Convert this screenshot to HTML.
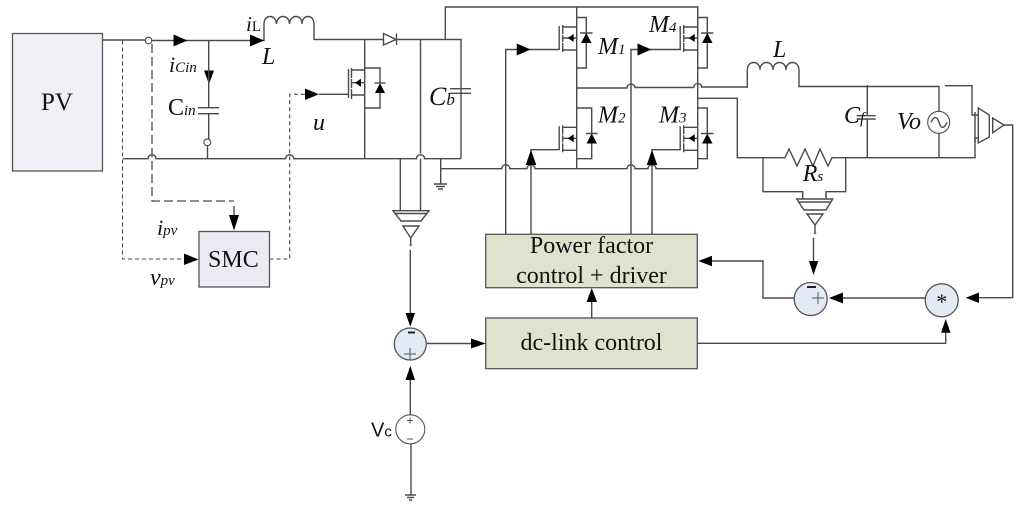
<!DOCTYPE html>
<html><head><meta charset="utf-8"><style>
html,body{margin:0;padding:0;background:#fff;width:1024px;height:515px;overflow:hidden}
svg{display:block;filter:blur(.35px)}
text{font-family:"Liberation Serif",serif;fill:#111}
.i{font-style:italic}
.l{fill:none;stroke:#4a4a4a;stroke-width:1.4}
.d{fill:none;stroke:#4a4a4a;stroke-width:1.1;stroke-dasharray:4 3}
.k{fill:#000;stroke:none}
.s{font-size:15px}
</style></head><body>
<svg width="1024" height="515" viewBox="0 0 1024 515" xmlns="http://www.w3.org/2000/svg">
<defs>
<g id="fet">
<path class="l" d="M-17.5 -12V12M-14 -13V-4M-14 -3V4M-14 5V14M-14 -11H0M-14 12H0M-14 0H0"/>
<path class="k" d="M-9 0L-3 -4V4Z"/>
</g>
</defs>

<!-- Boxes -->
<rect x="12.5" y="33.5" width="90" height="137.5" fill="#f0eff6" stroke="#555" stroke-width="1.3"/>
<rect x="199" y="231.5" width="70.5" height="55.5" fill="#eceaf3" stroke="#555" stroke-width="1.3"/>
<rect x="485.7" y="234.3" width="211.6" height="53.4" fill="#dfe3cd" stroke="#555" stroke-width="1.3"/>
<rect x="485.7" y="318" width="211.6" height="50.7" fill="#dfe3cd" stroke="#555" stroke-width="1.3"/>

<!-- Input -->
<path class="l" d="M103 40H145M152 40.5H264V24C264 14 276 14 276.5 24C277 14 289 14 289.5 24C290 14 302 14 302 24C302 14 314 14 314 24V39.5H383M396 39.5H461V158.7"/>
<circle cx="148.5" cy="40.5" r="3.3" fill="#fff" stroke="#4a4a4a" stroke-width="1.1"/>
<path class="k" d="M173.5 34.5L187.5 40.5L173.5 46.5Z M250 34.5L264 40.5L250 46.5Z M204 70.5H214L209 84Z"/>
<path class="l" d="M208.7 40.5V107.7M208.7 113.7V139M207.5 146V158.7M198 107.7H219M198 113.7H219"/>
<circle cx="207.3" cy="142.3" r="3.4" fill="#fff" stroke="#4a4a4a" stroke-width="1.1"/>
<path class="l" d="M123 158.7H148C148 153.5 156 153.5 156 158.7H285.7C285.7 153.5 293.7 153.5 293.7 158.7H416.5C416.5 153.5 424.5 153.5 424.5 158.7H461"/>

<!-- Dashed -->
<path class="d" d="M122.5 40.5V259H185"/>
<path class="k" d="M184 253.5L198.5 259.5L184 265Z"/>
<path d="M152 44V201H234" fill="none" stroke="#4a4a4a" stroke-width="1.3" stroke-dasharray="9 4"/>
<path class="l" d="M234 206V216"/>
<path class="k" d="M229 215H239L234 230.5Z"/>
<path class="d" d="M269.5 259H289.7V94.3H305"/>
<path class="k" d="M305 88.5L319 94.3L305 100Z"/>

<!-- Boost switch -->
<path class="l" d="M319 94.3H348.5M348.5 69V98M351.5 68V78M351.5 79V88M351.5 89V99M351.5 70H364.7M351.5 95H364.7M351.5 82.7H364.7M364.7 39.5V158.7M364.7 68H380V83M380 93V108H364.7"/>
<path class="k" d="M355 82.7L361 78.7V86.7Z M380 83L385 93H375Z"/>
<path class="l" d="M374.5 83H385.5"/>
<path class="l" d="M383.5 33.5V45L396 39.5ZM396.5 33.5V45"/>

<!-- Dc link verticals -->
<path class="l" d="M420.5 39.5V153.5M420.5 158.7V210M445.3 39.5V7H697.7V38M450 88.7H471M450 93.3H471"/>
<path class="l" d="M400.3 158.7V210.5"/>
<path class="l" d="M440.7 158.7V168.7H501.7C501.7 163.5 509.7 163.5 509.7 168.7H527C527 163.5 535 163.5 535 168.7H627C627 163.5 635 163.5 635 168.7H648C648 163.5 656 163.5 656 168.7H697.7"/>
<path class="l" d="M440.7 168.7V184M434 184H447M436 186.5H445M438 189H443"/>

<!-- Bridge -->
<path class="l" d="M576.7 7V168.7M697.7 7V168.7"/>
<use href="#fet" x="576.7" y="38"/>
<use href="#fet" x="697.7" y="38"/>
<use href="#fet" x="576.7" y="138.3"/>
<use href="#fet" x="697.7" y="138.3"/>
<path class="l" d="M576.7 17.5H586.3V68H576.7M697.7 17.5H707.3V68H697.7M576.7 108H591.7V158.7H576.7M697.7 108H707.3V158.7H697.7"/>
<g fill="#000">
<path d="M586.3 33L591.5 43H581Z M707.3 33L712.5 43H702Z M591.7 133.5L597 143.5H586.5Z M707.3 133.5L712.5 143.5H702Z"/>
</g>
<path class="l" d="M580 33H592.5M701 33H713.5M586 133.5H597.5M701 133.5H713.5"/>

<!-- Gates -->
<path class="l" d="M505.7 234V49.5H559M631 234V49.5H680.7M531 234V149.7H559M652 234V149.7H680.7"/>
<path class="k" d="M516.7 43.5L530.5 49.5L516.7 55.5Z M637.5 43.5L651.5 49.5L637.5 55.5Z M531 150L536.3 165H525.7Z M652 150L657.3 165H646.7Z"/>

<!-- Output wiring -->
<path class="l" d="M576.7 88H627C627 83 635 83 635 87.5H693.7C693.7 82.5 701.7 82.5 701.7 87H747.3V70C747.3 60 760 60 760 70C760 60 773 60 773 70C773 60 786 60 786 70C786 60 799 60 799 70V86.5H939M945 85.7H972V115H978"/>
<path class="l" d="M697.7 98.3H737.3V157.7H785L789 149L797 166L805 149L813 166L820 149L828 166L832 157.7H975V138H978"/>
<path class="l" d="M867.3 85V115.7M867.3 119V158M856.7 115.7H875.7M856.7 119H875.7M939 86V111M939 133.5V158"/>
<circle cx="938.7" cy="122.3" r="11" fill="#fff" stroke="#4a4a4a" stroke-width="1.1"/>
<path class="l" d="M931 122.3C934 116 937 116 939 122.3C941 129 944 129 947 122.3"/>

<!-- Right opamp -->
<path class="l" d="M975 112V142M978.3 108V143L989.3 137V115ZM992.7 118V132.7L1004 125ZM1004 125H1012.7V297.7H979"/>
<path class="k" d="M979 292.5V303L965.7 297.7Z"/>

<!-- Rs opamp -->
<path class="l" d="M763 157.7V191.7H802.7V199M845.7 157.7V191.7H826V199M796.7 199H832.7L826 210H804ZM798 202H831M807 214H823L815 225ZM815 225V233"/>
<circle cx="815" cy="233" r="1.3" fill="#777"/>
<path class="l" d="M813.5 237.7V262"/>
<path class="k" d="M809 261H818.3L813.5 275Z"/>

<!-- Summing right -->
<circle cx="810.7" cy="299" r="16.5" fill="#e3eaf5" stroke="#555" stroke-width="1.3"/>
<path d="M807 287H816" stroke="#222" stroke-width="2"/>
<path d="M812 298H824M818 292V304" stroke="#555" stroke-width="1" fill="none"/>
<circle cx="941.7" cy="300.3" r="16.5" fill="#e3eaf5" stroke="#555" stroke-width="1.3"/>
<text x="941.7" y="309" font-size="22" text-anchor="middle">*</text>
<path class="l" d="M925 298H843M712 261H763V298H794"/>
<path class="k" d="M829 298L843 292.5V303.5Z M698.3 261L712 255.7V266.3Z"/>
<path class="l" d="M697.3 343.3H945.7V332"/>
<path class="k" d="M945.7 319L950.5 332.7H941Z"/>

<!-- Left control -->
<path class="l" d="M393 210.7H429L421 221H401ZM394.5 213.5H427.5M403 226H419L410.7 238ZM410.7 238V245"/>
<circle cx="410.7" cy="245" r="1.3" fill="#777"/>
<path class="l" d="M410.3 250V314"/>
<path class="k" d="M405.5 313H415L410.3 326.7Z"/>
<circle cx="410.3" cy="344" r="16" fill="#e3eaf5" stroke="#555" stroke-width="1.3"/>
<path d="M408 332.5H415" stroke="#222" stroke-width="2"/>
<path d="M404 354H416M410 348V360" stroke="#555" stroke-width="1" fill="none"/>
<path class="l" d="M427 343.5H472"/>
<path class="k" d="M471 338.5L485.7 343.5L471 348.5Z"/>
<path class="k" d="M410.3 365.7L415 380H405.5Z"/>
<path class="l" d="M410.3 380V415M411 444V495M405 495H416"/>
<path class="l" d="M407 497.5H414M409 500H412"/>
<circle cx="410.3" cy="429.3" r="14.5" fill="#fff" stroke="#555" stroke-width="1.1"/>
<path d="M407 420.5H413M410 417.5V423.5M407 439H413" stroke="#555" stroke-width="1" fill="none"/>

<!-- Arrow between blocks -->
<path class="l" d="M591.7 318V302"/>
<path class="k" d="M591.7 288L597 302H586.5Z"/>

<!-- Labels -->
<text x="41" y="110" font-size="25">PV</text>
<text x="208" y="267" font-size="24">SMC</text>
<text x="246" y="31" font-size="21" class="i">i<tspan class="s" style="font-style:normal">L</tspan></text>
<text x="262" y="64" font-size="24" class="i">L</text>
<text x="169" y="72" font-size="22" class="i">i<tspan class="s">Cin</tspan></text>
<text x="168" y="115" font-size="24">C<tspan class="s i">in</tspan></text>
<text x="313" y="130" font-size="24" class="i">u</text>
<text x="157" y="235" font-size="22" class="i">i<tspan class="s">pv</tspan></text>
<text x="150" y="285" font-size="24" class="i">v<tspan class="s">pv</tspan></text>
<text x="429" y="105" font-size="26" class="i">C<tspan font-size="17">b</tspan></text>
<text x="598" y="54" font-size="24" class="i">M<tspan class="s">1</tspan></text>
<text x="598" y="122.7" font-size="24" class="i">M<tspan class="s">2</tspan></text>
<text x="649" y="32" font-size="24" class="i">M<tspan class="s">4</tspan></text>
<text x="659" y="122.7" font-size="24" class="i">M<tspan class="s">3</tspan></text>
<text x="773" y="57" font-size="24" class="i">L</text>
<text x="844" y="123" font-size="24" class="i">C<tspan font-size="16">f</tspan></text>
<text x="897" y="129" font-size="24" class="i">Vo</text>
<text x="802.7" y="181" font-size="24" class="i">R<tspan class="s">s</tspan></text>
<text x="591.5" y="253" font-size="24" text-anchor="middle">Power factor</text>
<text x="591.5" y="283" font-size="24" text-anchor="middle">control + driver</text>
<text x="591.5" y="350" font-size="24" text-anchor="middle">dc-link control</text>
<text x="371" y="436.7" font-size="20" style="font-family:'Liberation Sans',sans-serif">V<tspan font-size="15">c</tspan></text>
</svg>
</body></html>
